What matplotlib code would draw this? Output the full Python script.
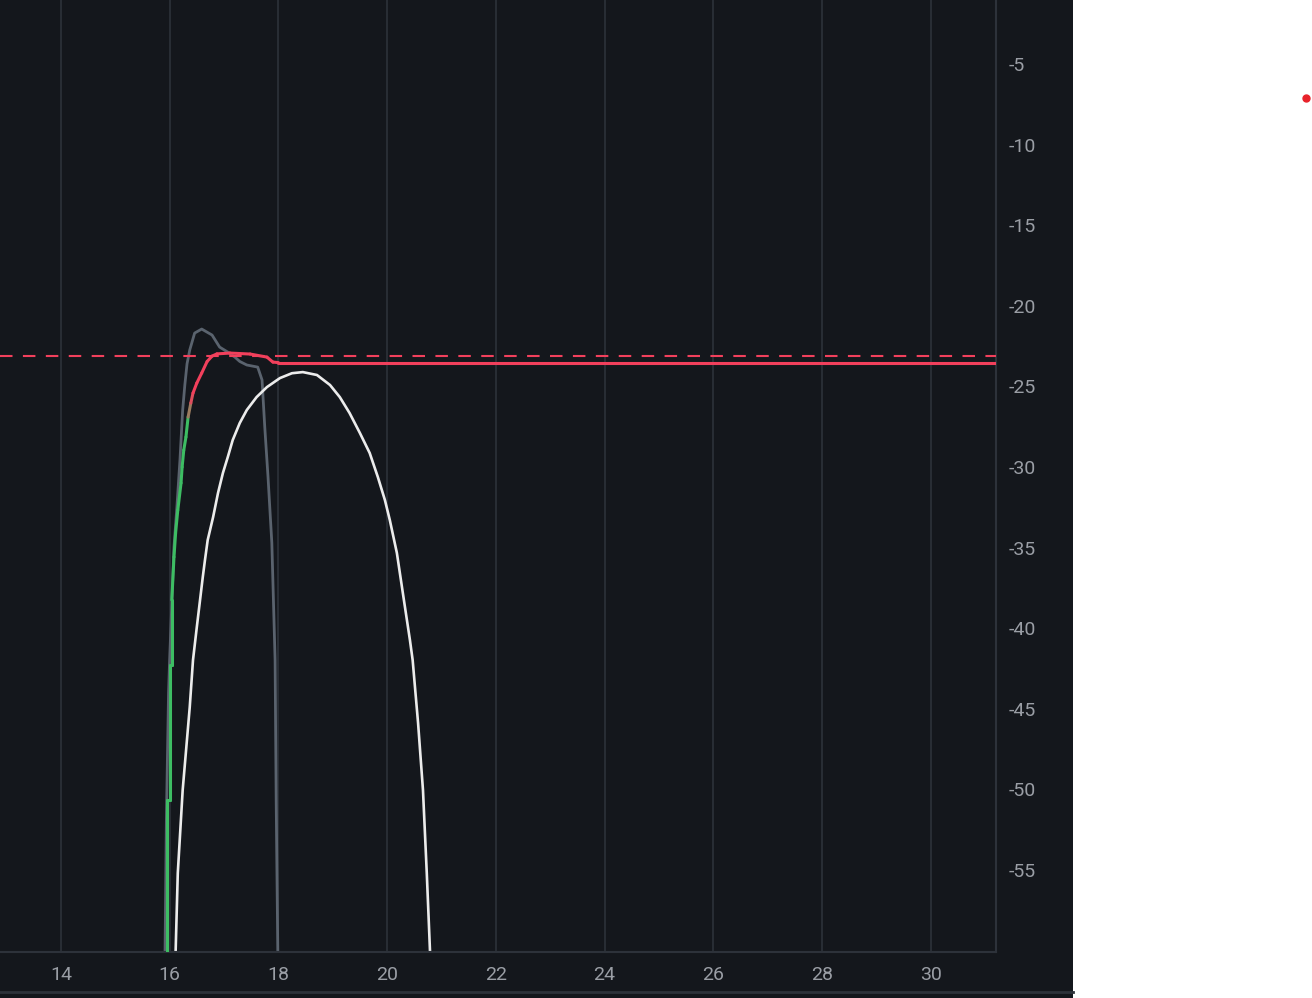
import numpy as np
import matplotlib.pyplot as plt
from matplotlib.collections import LineCollection
from matplotlib.lines import Line2D
from matplotlib.patches import Rectangle
from matplotlib.colors import to_rgb

plt.rcParams['axes.unicode_minus'] = False

# Datos
x_ticks = [14, 16, 18, 20, 22, 24, 26, 28, 30]
y_ticks = [-5, -10, -15, -20, -25, -30, -35, -40, -45, -50, -55]

nivel_objetivo = -23.1   # linea discontinua

# curva verde -> roja (escalonada abajo)
resp_x = [15.95, 15.95, 16.01, 16.01, 16.04, 16.04, 16.08, 16.11, 16.15, 16.21,
          16.23, 16.26, 16.30, 16.34, 16.39, 16.43, 16.50, 16.59, 16.69, 16.78,
          16.87, 17.11, 17.48, 17.79, 17.90, 18.00, 31.5]
resp_y = [-62.0, -50.66, -50.66, -42.28, -42.28, -38.25, -35.58, -34.09, -32.67, -30.99,
          -30.00, -28.95, -28.14, -26.90, -26.03, -25.41, -24.79, -24.17, -23.45, -23.12,
          -22.98, -22.93, -22.99, -23.18, -23.49, -23.52, -23.52]

# curva gris
gris_x = [15.91, 15.94, 15.98, 16.00, 16.08, 16.13, 16.19, 16.24, 16.28, 16.32,
          16.37, 16.46, 16.59, 16.78, 16.92, 17.07, 17.20, 17.29, 17.42, 17.62,
          17.70, 17.75, 17.81, 17.88, 17.94, 17.96, 17.99, 18.00]
gris_y = [-62.0, -52.0, -44.0, -41.97, -34.96, -32.67, -29.57, -26.46, -24.9, -23.6,
          -22.74, -21.69, -21.44, -21.81, -22.56, -22.87, -23.18, -23.45, -23.67, -23.80,
          -24.60, -27.52, -30.62, -34.71, -41.97, -50.66, -60.09, -62.0]

# curva blanca
blanca_x = [16.11, 16.11, 16.15, 16.24, 16.37, 16.43, 16.50, 16.61, 16.65, 16.70,
            16.80, 16.89, 16.98, 17.07, 17.16, 17.29, 17.42, 17.60, 17.79, 18.03,
            18.25, 18.45, 18.71, 18.95, 19.13, 19.31, 19.50, 19.68, 19.83, 19.96,
            20.05, 20.18, 20.29, 20.42, 20.47, 20.57, 20.66, 20.73, 20.79, 20.80]
blanca_y = [-62.0, -60.09, -55.19, -50.04, -44.89, -41.97, -39.93, -36.82, -35.77, -34.53,
            -33.10, -31.61, -30.37, -29.38, -28.33, -27.27, -26.46, -25.66, -25.04, -24.48,
            -24.18, -24.11, -24.29, -24.91, -25.66, -26.65, -27.89, -29.13, -30.62, -32.05,
            -33.29, -35.33, -37.82, -40.73, -41.97, -45.88, -50.04, -55.19, -60.09, -62.0]

fondo = '#14171c'
rejilla = '#2d323a'
texto = '#9a9ea5'
rojo = '#f2405c'
verde = '#3dbd63'

fig = plt.figure(figsize=(13.12, 9.98), dpi=100, facecolor='white')
fig.patches.append(Rectangle((0, 0), 1073 / 1312, 1, transform=fig.transFigure,
                             facecolor=fondo, edgecolor='none', zorder=-5))
ax = fig.add_axes([0, 46 / 998, 996 / 1312, 952 / 998])
ax.set_zorder(2)
ax.set_facecolor(fondo)

ax.set_xlim(12.88, 31.2)
ax.set_ylim(-60.08, -1.03)

ax.set_xticks(x_ticks)
ax.set_yticks(y_ticks)
ax.yaxis.tick_right()
ax.tick_params(axis='both', length=0, colors=texto, labelsize=14)
ax.tick_params(axis='x', pad=10)
ax.tick_params(axis='y', pad=9)
for lab in ax.get_xticklabels() + ax.get_yticklabels():
    lab.set_fontfamily('Roboto')
    lab.set_color(texto)
for lab in ax.get_yticklabels():
    lab.set_horizontalalignment('left')

ax.grid(axis='x', color=rejilla, linewidth=1.2)
ax.grid(axis='y', visible=False)
for s in ['left', 'top']:
    ax.spines[s].set_visible(False)
for s in ['right', 'bottom']:
    ax.spines[s].set_color(rejilla)
    ax.spines[s].set_linewidth(1.5)

# linea objetivo discontinua
ax.axhline(nivel_objetivo, color=rojo, linewidth=1.5, linestyle=(0, (6, 5)), zorder=3)

# curva gris
ax.plot(gris_x, gris_y, color='#5a636e', linewidth=2.0, zorder=2)

# curva blanca
ax.plot(blanca_x, blanca_y, color='#ececec', linewidth=1.9, zorder=2)

# curva con degradado verde -> rojo
pts = np.column_stack([resp_x, resp_y])
segs = np.stack([pts[:-1], pts[1:]], axis=1)
ymed = (pts[:-1, 1] + pts[1:, 1]) / 2
t = np.clip((ymed + 27.5) / 2.0, 0, 1)
cv, cr = np.array(to_rgb(verde)), np.array(to_rgb(rojo))
cols = [tuple(cv * (1 - k) + cr * k) for k in t]
lc = LineCollection(segs, colors=cols, linewidths=2.2, zorder=4, capstyle='round')
ax.add_collection(lc)

# borde inferior y punto rojo
fig.add_artist(Line2D([0, 1073 / 1312], [6 / 998, 6 / 998], transform=fig.transFigure,
                      color=rejilla, linewidth=2))
fig.add_artist(Line2D([1306 / 1312], [1 - 98 / 998], transform=fig.transFigure,
                      marker='o', markersize=5, color='#e8222a', linestyle='none'))

fig.savefig('out.png', dpi=100, facecolor='white')
